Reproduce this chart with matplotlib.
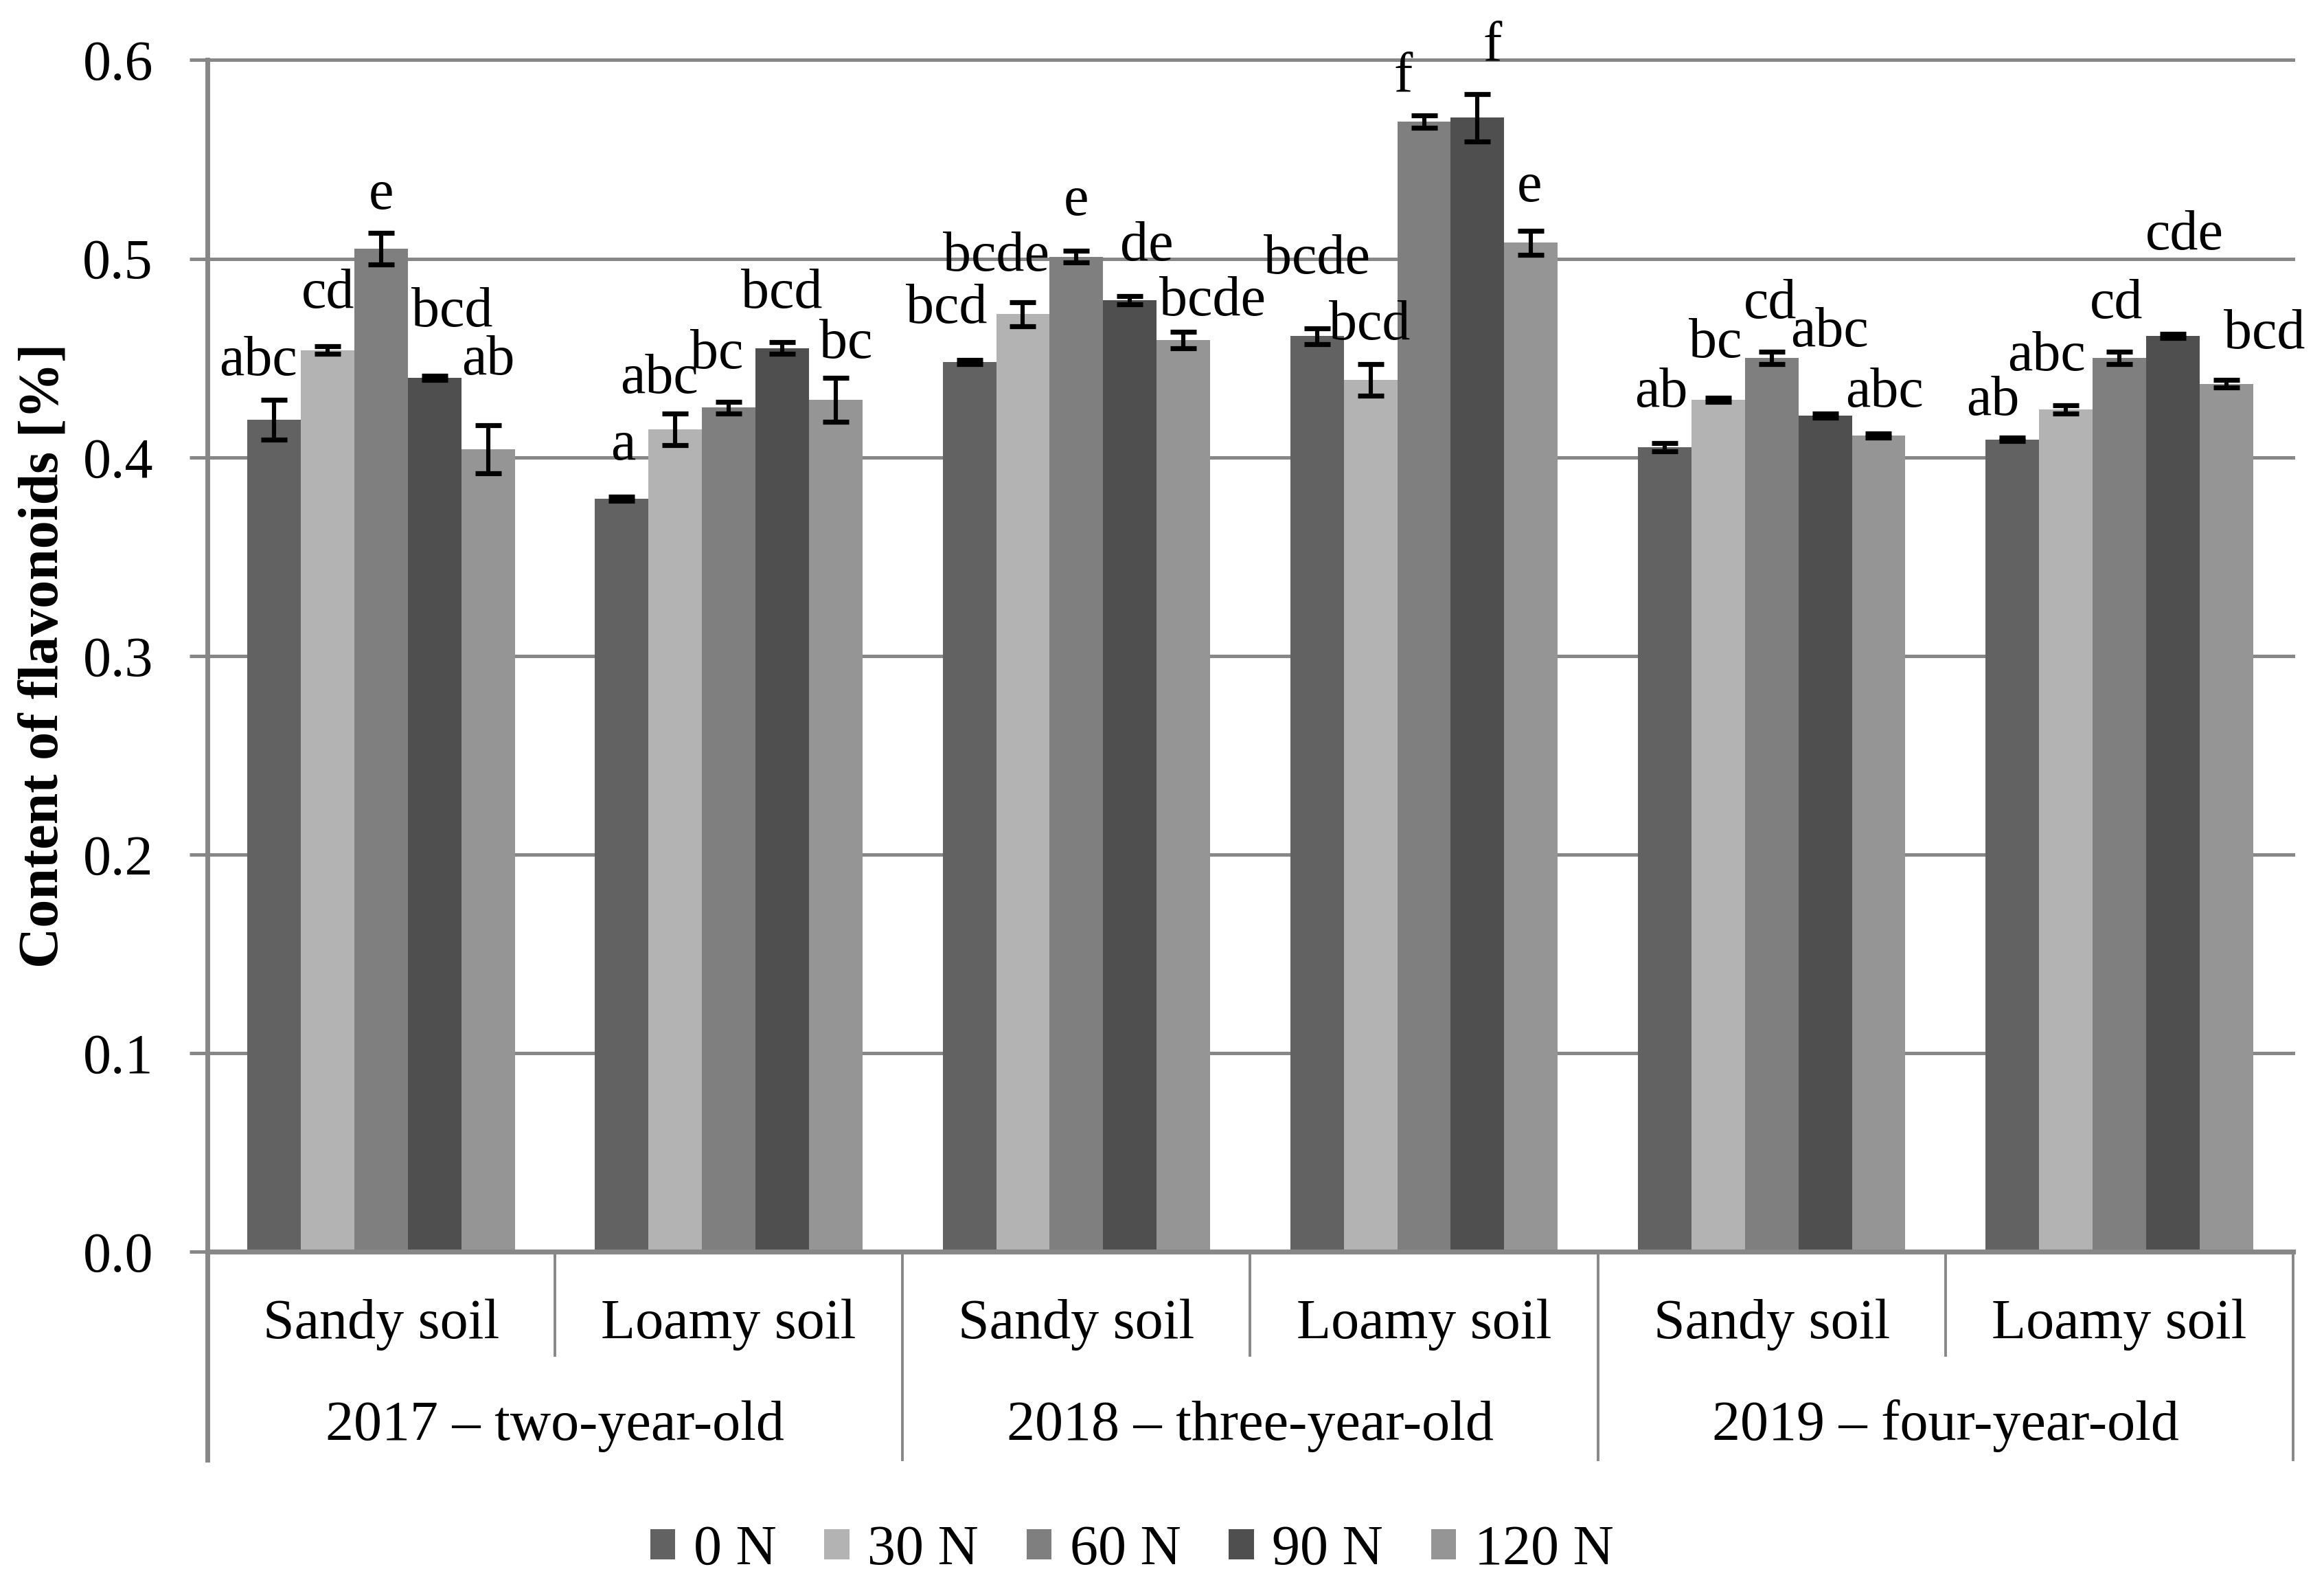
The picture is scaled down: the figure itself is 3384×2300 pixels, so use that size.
import numpy as np
import matplotlib
matplotlib.use("Agg")
import matplotlib.pyplot as plt
from matplotlib.patches import Patch

plt.rcParams['font.family'] = ['Liberation Serif', 'DejaVu Serif']

# ---------------- data ----------------
soils = ["Sandy soil", "Loamy soil", "Sandy soil", "Loamy soil", "Sandy soil", "Loamy soil"]
years = ["2017 \u2013 two-year-old", "2018 \u2013 three-year-old", "2019 \u2013 four-year-old"]
series = ["0 N", "30 N", "60 N", "90 N", "120 N"]

v_0N = [0.419, 0.379, 0.448, 0.461, 0.405, 0.409]
v_30N = [0.454, 0.414, 0.472, 0.439, 0.429, 0.424]
v_60N = [0.505, 0.425, 0.501, 0.569, 0.450, 0.450]
v_90N = [0.440, 0.455, 0.479, 0.571, 0.421, 0.461]
v_120N = [0.404, 0.429, 0.459, 0.508, 0.411, 0.437]

e_0N = [0.010, 0.001, 0.001, 0.004, 0.002, 0.001]
e_30N = [0.002, 0.008, 0.006, 0.008, 0.001, 0.002]
e_60N = [0.008, 0.003, 0.003, 0.003, 0.003, 0.003]
e_90N = [0.001, 0.003, 0.002, 0.012, 0.001, 0.001]
e_120N = [0.012, 0.011, 0.004, 0.006, 0.001, 0.002]

l_0N = ["abc", "a", "bcd", "bcde", "ab", "ab"]
l_30N = ["cd", "abc", "bcde", "bcd", "bc", "abc"]
l_60N = ["e", "bc", "e", "f", "cd", "cd"]
l_90N = ["bcd", "bcd", "de", "f", "abc", "cde"]
l_120N = ["ab", "bc", "bcde", "e", "abc", "bcd"]

values = [v_0N, v_30N, v_60N, v_90N, v_120N]
errors = [e_0N, e_30N, e_60N, e_90N, e_120N]
letters = [l_0N, l_30N, l_60N, l_90N, l_120N]

# ---------------- layout (letter label placement) ----------------
label_dx = [[-0.354, -0.153, 0.0, 0.204, 0.307],
            [-0.304, -0.199, -0.034, 0.153, 0.337],
            [-0.374, -0.231, 0.0, 0.202, 0.391],
            [-0.308, -0.156, -0.06, 0.196, 0.304],
            [-0.317, -0.162, -0.004, 0.167, 0.324],
            [-0.363, -0.21, -0.008, 0.187, 0.418]]
label_y = [[0.4415, 0.4752, 0.5252, 0.466, 0.4418],
           [0.3989, 0.4323, 0.4447, 0.4752, 0.4501],
           [0.4675, 0.4938, 0.522, 0.4991, 0.4716],
           [0.4926, 0.4592, 0.584, 0.5995, 0.529],
           [0.4253, 0.4505, 0.4702, 0.4558, 0.4253],
           [0.4214, 0.4439, 0.4702, 0.5048, 0.4547]]

colors = ["#626262", "#b3b3b3", "#7f7f7f", "#4f4f4f", "#959595"]
grid_c = "#878787"
FS = 29.5

fig = plt.figure(figsize=(16.92, 11.5), dpi=200)
ax = fig.add_axes([0.0892, 0.2078, 0.9867 - 0.0892, 0.962 - 0.2078])

n_cat = len(soils)
n_ser = len(series)
w = 1.0 / (n_ser + 1.5)
x = np.arange(n_cat) + 0.5

for s in range(n_ser):
    xs = x + (s - (n_ser - 1) / 2) * w
    ax.bar(xs, values[s], width=w, color=colors[s], zorder=2, label=series[s])
    ax.errorbar(xs, values[s], yerr=errors[s], fmt='none', ecolor='black',
                elinewidth=2.2, capsize=7, capthick=2.6, zorder=3)

for c in range(n_cat):
    for s in range(n_ser):
        ax.text(x[c] + label_dx[c][s], label_y[c][s], letters[s][c],
                ha='center', va='baseline', fontsize=FS, zorder=4, clip_on=False)

ax.set_xlim(0, n_cat)
ax.set_ylim(0, 0.6)
yt = np.round(np.arange(0, 0.61, 0.1), 1)
ax.set_yticks(yt)
ax.set_yticklabels([f"{t:.1f}" for t in yt], fontsize=FS)
ax.set_xticks([])
ax.tick_params(axis='y', length=9.4, width=1.8, color=grid_c, pad=19)

for t in yt[1:]:
    ax.axhline(t, color=grid_c, lw=1.8, zorder=1, clip_on=False)

for sp in ['top', 'right', 'left']:
    ax.spines[sp].set_visible(False)
ax.spines['bottom'].set_color(grid_c)
ax.spines['bottom'].set_linewidth(2.6)
ax.spines['bottom'].set_zorder(5)

trans = ax.get_xaxis_transform()
low = -0.087
deep = -0.1747
# left axis line extending down
ax.plot([0, 0], [deep, 1], transform=trans, color=grid_c, lw=2.5, clip_on=False, zorder=5)
for b in range(1, n_cat + 1):
    yb = deep if b % 2 == 0 else low
    ax.plot([b, b], [yb, 0], transform=trans, color=grid_c, lw=1.4, clip_on=False, zorder=5)

for c in range(n_cat):
    ax.text(x[c], -0.0726, soils[c], transform=trans, ha='center', va='baseline', fontsize=FS)
for yi, yr in enumerate(years):
    ax.text(2 * yi + 1, -0.1577, yr, transform=trans, ha='center', va='baseline', fontsize=FS)

fig.text(64 / 3384, 0.585, "Content of flavonoids [%]", rotation=90, ha='center', va='center',
         fontsize=FS, fontweight='bold')

handles = [Patch(facecolor=colors[s], edgecolor='none') for s in range(n_ser)]
fig.legend(handles, series, loc='center', bbox_to_anchor=(0.487, 0.0185), ncol=n_ser,
           frameon=False, fontsize=FS, handlelength=0.45, handleheight=0.45,
           handletextpad=0.32, columnspacing=0.85, borderpad=0)

fig.savefig("out.png", dpi=200)
